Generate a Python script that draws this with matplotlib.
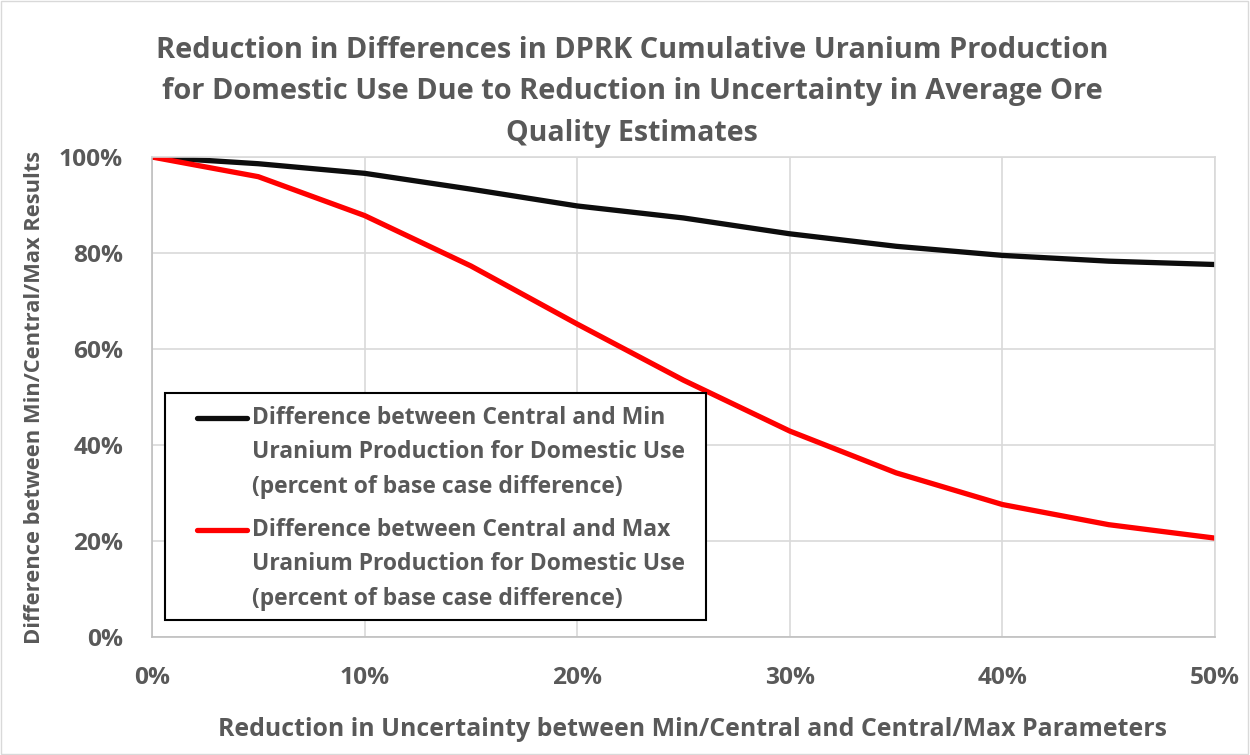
import matplotlib
matplotlib.use("Agg")
import matplotlib.pyplot as plt
from matplotlib.ticker import FuncFormatter, MultipleLocator
from matplotlib.patches import Rectangle
from matplotlib.lines import Line2D

# ---- data ----
reduction = [0, 5, 10, 15, 20, 25, 30, 35, 40, 45, 50]
diff_min = [100, 98.6, 96.6, 93.3, 89.8, 87.3, 84.0, 81.4, 79.5, 78.3, 77.6]
diff_max = [100, 95.9, 87.8, 77.3, 65.2, 53.5, 42.9, 34.2, 27.6, 23.4, 20.6]

title_lines = ["Reduction in Differences in DPRK Cumulative Uranium Production",
               "for Domestic Use Due to Reduction in Uncertainty in Average Ore",
               "Quality Estimates"]
label_min = ["Difference between Central and Min",
             "Uranium Production for Domestic Use",
             "(percent of base case difference)"]
label_max = ["Difference between Central and Max",
             "Uranium Production for Domestic Use",
             "(percent of base case difference)"]
xlabel = "Reduction in Uncertainty between Min/Central and Central/Max Parameters"
ylabel = "Difference between Min/Central/Max Results"

TXT = "#595959"
GRID = "#d9d9d9"
FONT = ['Open Sans', 'DejaVu Sans']
plt.rcParams['font.family'] = FONT
plt.rcParams['font.weight'] = 'bold'

W, H = 1250, 755
fig = plt.figure(figsize=(W/100, H/100), dpi=100)
renderer = fig.canvas.get_renderer()


def px(x, y):
    return x / W, 1 - y / H


def fit(t, target_w, horizontal=True):
    """scale font size so the text spans target_w pixels"""
    bb = t.get_window_extent(renderer)
    cur = bb.width if horizontal else bb.height
    t.set_fontsize(t.get_fontsize() * target_w / cur)
    return t.get_fontsize()


ax = fig.add_axes([152/W, 1-637/H, (1215-152)/W, (637-157)/H])

ax.plot(reduction, diff_min, color="#0d0d0d", lw=3.8, solid_capstyle='round')
ax.plot(reduction, diff_max, color="#ff0000", lw=3.8, solid_capstyle='round')

ax.set_xlim(0, 50)
ax.set_ylim(0, 100)
ax.xaxis.set_major_locator(MultipleLocator(10))
ax.yaxis.set_major_locator(MultipleLocator(20))
fmt = FuncFormatter(lambda v, p: f"{v:.0f}%")
ax.xaxis.set_major_formatter(fmt)
ax.yaxis.set_major_formatter(fmt)
ax.grid(True, color=GRID, lw=1.2)
ax.set_axisbelow(True)
for s in ax.spines.values():
    s.set_color(GRID)
    s.set_linewidth(1.2)
ax.spines['left'].set_color("#bfbfbf")
ax.spines['bottom'].set_color("#bfbfbf")

# tick label size fitted to "100%" width of ~65px
probe = fig.text(0, 0, "100%", fontsize=15, fontweight='bold')
tick_fs = fit(probe, 64)
probe.remove()
ax.tick_params(length=0, labelsize=tick_fs, labelcolor=TXT)
ax.tick_params(axis='y', pad=29 * 0.72)
ax.tick_params(axis='x', pad=29 * 0.72)
for lab in ax.get_xticklabels() + ax.get_yticklabels():
    lab.set_fontweight('bold')

# title
title_y = [50, 92, 133]
title_w = [953, 944, 252]
for txt, yy, ww in zip(title_lines, title_y, title_w):
    t = fig.text(*px(632, yy), txt, ha='center', va='center', fontsize=18,
                 color=TXT, fontweight='bold')
    fit(t, ww)

t = fig.text(*px(693, 730), xlabel, ha='center', va='center', fontsize=15,
             color=TXT, fontweight='bold')
fit(t, 950)
t = fig.text(*px(35, 397), ylabel, ha='center', va='center', fontsize=15,
             color=TXT, fontweight='bold', rotation=90)
fit(t, 492, horizontal=False)

# legend drawn as a framed box with line samples
fig.patches.append(Rectangle(px(165, 620), (706-165)/W, (620-393)/H,
                             transform=fig.transFigure, facecolor='white',
                             edgecolor='black', lw=1.5, zorder=5))
probe = fig.text(0, 0, label_min[1], fontsize=15, fontweight='bold')
leg_fs = fit(probe, 433)
probe.remove()
for lines, color, y0 in ((label_min, "#0d0d0d", 418), (label_max, "#ff0000", 530)):
    x0, y_ = px(197, y0)
    x1, _ = px(247, y0)
    fig.add_artist(Line2D([x0, x1], [y_, y_], transform=fig.transFigure,
                          color=color, lw=3.8, solid_capstyle='round', zorder=6))
    for i, s in enumerate(lines):
        fig.text(*px(252, y0 + i * 34.5), s, ha='left', va='center',
                 fontsize=leg_fs, color=TXT, fontweight='bold', zorder=6)

fig.patches.append(Rectangle((0.0005, 0.001), 0.998, 0.998, transform=fig.transFigure,
                             fill=False, edgecolor="#d9d9d9", lw=1))

fig.savefig("out.png", dpi=100, facecolor='white')
